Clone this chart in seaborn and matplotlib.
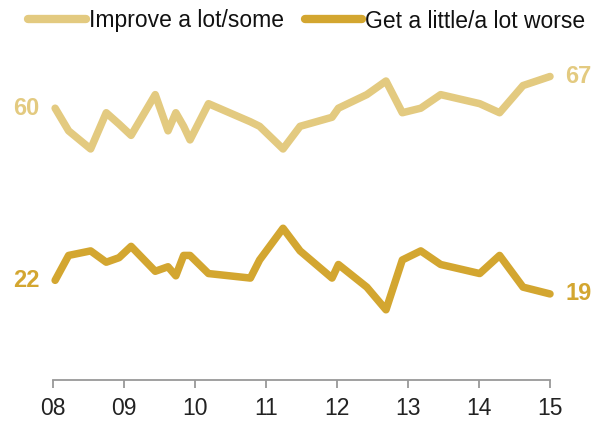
import matplotlib
matplotlib.use("Agg")
import matplotlib.pyplot as plt
import seaborn as sns
import pandas as pd

years = [2008.03, 2008.22, 2008.53, 2008.75, 2008.93, 2009.10, 2009.44, 2009.62,
         2009.73, 2009.84, 2009.93, 2010.19, 2010.78, 2010.91, 2011.24, 2011.48,
         2011.93, 2012.02, 2012.42, 2012.69, 2012.92, 2013.18, 2013.46, 2014.01,
         2014.29, 2014.62, 2015.00]
improve = [60, 55, 51, 59, 56.5, 54, 63, 55, 59, 56, 53, 61, 57, 56, 51, 56,
           58, 60, 63, 66, 59, 60, 63, 61, 59, 65, 67]
worse = [22, 27.5, 28.5, 26, 27, 29.5, 24, 25, 23, 27.5, 27.5, 23.5, 22.5, 26.5,
         33.5, 28.5, 22.5, 25.5, 20.5, 15.5, 26.5, 28.5, 25.5, 23.5, 27.5, 20.5, 19]
series = ["Improve a lot/some", "Get a little/a lot worse"]
colors = ["#E3CA80", "#D3A630"]
tick_years = [2008, 2009, 2010, 2011, 2012, 2013, 2014, 2015]
tick_labels = ["08", "09", "10", "11", "12", "13", "14", "15"]

df = pd.DataFrame({
    "year": years * 2,
    "value": improve + worse,
    "series": [series[0]] * len(years) + [series[1]] * len(years),
})

sns.set_style("white")
plt.rcParams["font.family"] = ["Liberation Sans Narrow", "Liberation Sans", "DejaVu Sans"]

fig = plt.figure(figsize=(6.01, 4.21), dpi=100)
ax = fig.add_axes([53 / 601, 1 - 380 / 421, 497 / 601, 362.4 / 421])

sns.lineplot(data=df, x="year", y="value", hue="series", palette=colors,
             hue_order=series, linewidth=5.4, ax=ax, legend=False,
             solid_capstyle="round", solid_joinstyle="round", clip_on=False)

ax.set_xlim(2008, 2015)
ax.set_ylim(0, 80)
ax.set_xticks(tick_years)
ax.set_xticklabels(tick_labels, fontsize=16.5, color="#222222")
ax.set_yticks([])
ax.set_xlabel("")
ax.set_ylabel("")
for s in ["top", "right", "left"]:
    ax.spines[s].set_visible(False)
ax.spines["bottom"].set_color("#999999")
ax.spines["bottom"].set_linewidth(1.3)
ax.tick_params(axis="x", bottom=True, direction="out", length=6, width=1.3,
               color="#999999", pad=6)

lab_font = dict(fontsize=17, fontweight="bold", family=["Liberation Sans", "DejaVu Sans"])
ax.annotate(f"{improve[0]:g}", xy=(years[0], improve[0]), xytext=(-20.5, 0),
            textcoords="offset points", ha="center", va="center", color=colors[0], **lab_font)
ax.annotate(f"{worse[0]:g}", xy=(years[0], worse[0]), xytext=(-20.5, 0),
            textcoords="offset points", ha="center", va="center", color=colors[1], **lab_font)
ax.annotate(f"{improve[-1]:g}", xy=(years[-1], improve[-1]), xytext=(20.5, 0),
            textcoords="offset points", ha="center", va="center", color=colors[0], **lab_font)
ax.annotate(f"{worse[-1]:g}", xy=(years[-1], worse[-1]), xytext=(20.5, 0),
            textcoords="offset points", ha="center", va="center", color=colors[1], **lab_font)

handles = [plt.Line2D([], [], color=c, linewidth=6, solid_capstyle="round") for c in colors]
fig.legend(handles, series, loc="center", bbox_to_anchor=(307 / 601, 1 - 21 / 421),
           ncol=2, frameon=False, fontsize=16.5, handlelength=2.5, handletextpad=0.15,
           columnspacing=0.9, borderpad=0, labelcolor="#111111")

fig.savefig("out.png", dpi=100)
